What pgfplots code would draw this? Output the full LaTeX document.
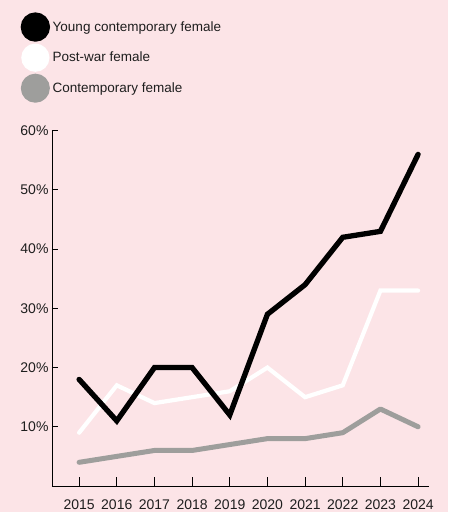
\documentclass[border=0pt]{standalone}
\usepackage{fontspec}
\setmainfont{Liberation Sans}
\usepackage{pgfplots}
\pgfplotsset{compat=1.18}
\definecolor{bgpink}{HTML}{FCE4E7}
\definecolor{lgray}{HTML}{9E9E9C}
\definecolor{txt}{HTML}{1E1E1E}
\begin{document}
\begin{tikzpicture}[x=1pt,y=1pt]
\fill[bgpink] (0,0) rectangle (448,512);
\path[use as bounding box] (0,0) rectangle (459,512);
\begin{axis}[
  at={(52pt,26pt)}, anchor=south west,
  scale only axis, width=377pt, height=355.3pt,
  xmin=2014.28, xmax=2024.29, ymin=0, ymax=60,
  axis lines=left, axis line style={-, line width=0.9pt, black},
  tick align=inside,
  major tick length=6pt,
  xtick={2015,2016,2017,2018,2019,2020,2021,2022,2023,2024},
  xticklabels={2015,2016,2017,2018,2019,2020,2021,2022,2023,2024},
  ytick={10,20,30,40,50,60},
  yticklabels={10\%,20\%,30\%,40\%,50\%,60\%},
  xtick style={line width=0.9pt, black, /pgfplots/major tick length=9pt},
  ytick style={line width=0.9pt, black},
  ticklabel style={font=\fontsize{14}{16}\selectfont, text=txt},
  xticklabel style={yshift=-10pt},
  clip=false,
  reverse legend,
  legend image code/.code={\fill[#1] (12pt,0pt) circle (12pt);},
  legend style={at={(axis description cs:-0.083,1.333)}, anchor=north west,
    draw=none, fill=none, inner sep=0pt, outer sep=0pt,
    row sep=1.9pt, column sep=0.7pt,
    font=\fontsize{13.5}{16}\selectfont, text=txt,
    cells={anchor=west}},
]
\addplot[lgray, line width=5pt, line cap=round, line join=round] coordinates {
 (2015,4) (2016,5) (2017,6) (2018,6) (2019,7) (2020,8) (2021,8) (2022,9) (2023,13) (2024,10)};
\addlegendentry{Contemporary female}
\addplot[white, line width=4.2pt, line cap=round, line join=miter] coordinates {
 (2015,9) (2016,17) (2017,14) (2018,15) (2019,16) (2020,20) (2021,15) (2022,17) (2023,33) (2024,33)};
\addlegendentry{Post-war female}
\addplot[black, line width=5.3pt, line cap=round, line join=miter] coordinates {
 (2015,18) (2016,11) (2017,20) (2018,20) (2019,12) (2020,29) (2021,34) (2022,42) (2023,43) (2024,56)};
\addlegendentry{Young contemporary female}
\end{axis}
\end{tikzpicture}
\end{document}
